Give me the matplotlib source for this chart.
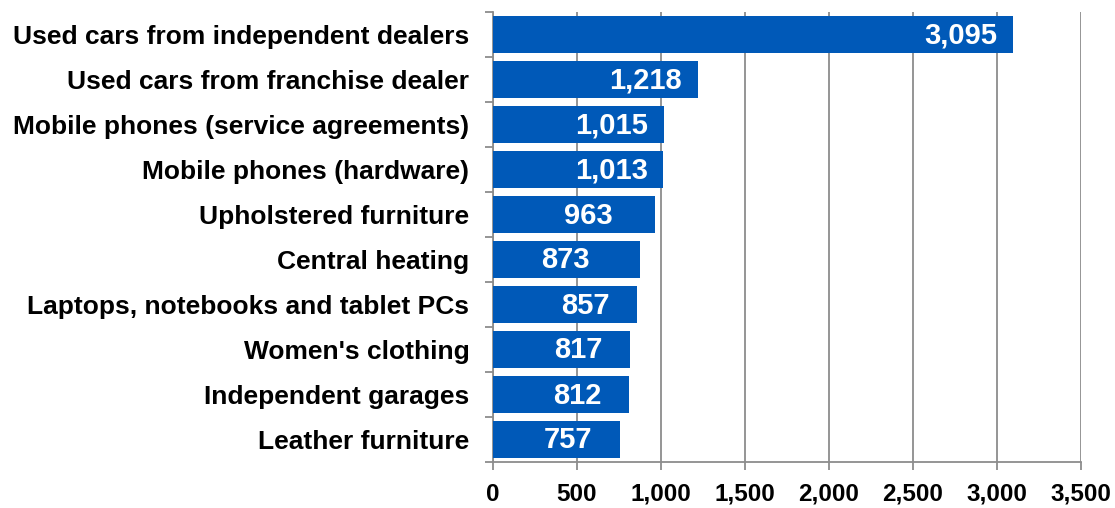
import matplotlib
matplotlib.use("Agg")
import matplotlib.pyplot as plt
from matplotlib.ticker import FuncFormatter, MultipleLocator, FixedLocator

categories = [
    "Used cars from independent dealers",
    "Used cars from franchise dealer",
    "Mobile phones (service agreements)",
    "Mobile phones (hardware)",
    "Upholstered furniture",
    "Central heating",
    "Laptops, notebooks and tablet PCs",
    "Women's clothing",
    "Independent garages",
    "Leather furniture",
]
values = [3095, 1218, 1015, 1013, 963, 873, 857, 817, 812, 757]

# label placement (pixels left of bar end, label centre) -- styling only
label_shift_px = {"Upholstered furniture": 66, "Central heating": 74}

plt.rcParams['font.family'] = ['Liberation Sans', 'DejaVu Sans']

fig = plt.figure(figsize=(11.15, 5.08), dpi=100)
ax = fig.add_axes([493/1115, 1-462/508, (1081-493)/1115, 450/508])

n = len(categories)
ypos = list(range(n))
ax.barh(ypos, values, height=0.82, color='#0059B8', zorder=3)
ax.set_ylim(n - 0.5, -0.5)
ax.set_xlim(0, 3500)

ax.xaxis.set_major_locator(MultipleLocator(500))
ax.xaxis.set_major_formatter(FuncFormatter(lambda v, p: f"{int(v):,}"))
ax.grid(axis='x', color='#8C8C8C', linewidth=1.3, zorder=0)
ax.set_axisbelow(True)

ax.set_yticks(ypos)
ax.set_yticklabels(categories, fontsize=19, fontweight='bold')
ax.yaxis.set_minor_locator(FixedLocator([i - 0.5 for i in range(n + 1)]))
ax.tick_params(axis='y', which='major', length=0, pad=17)
ax.tick_params(axis='y', which='minor', length=6, color='#8C8C8C', width=1.3)
ax.tick_params(axis='x', which='major', length=6, color='#8C8C8C', width=1.3,
               labelsize=17.5, pad=9)
for lab in ax.get_xticklabels():
    lab.set_fontweight('bold')

for s in ['top', 'right']:
    ax.spines[s].set_visible(False)
for s in ['left', 'bottom']:
    ax.spines[s].set_color('#8C8C8C')
    ax.spines[s].set_linewidth(1.3)

for cat, y, v in zip(categories, ypos, values):
    shift = label_shift_px.get(cat, 52)
    ax.annotate(f"{v:,}", xy=(v, y), xytext=(-shift, -1), textcoords='offset pixels',
                ha='center', va='center', color='white',
                fontsize=21, fontweight='bold', zorder=4)

fig.savefig("out.png", dpi=100)
